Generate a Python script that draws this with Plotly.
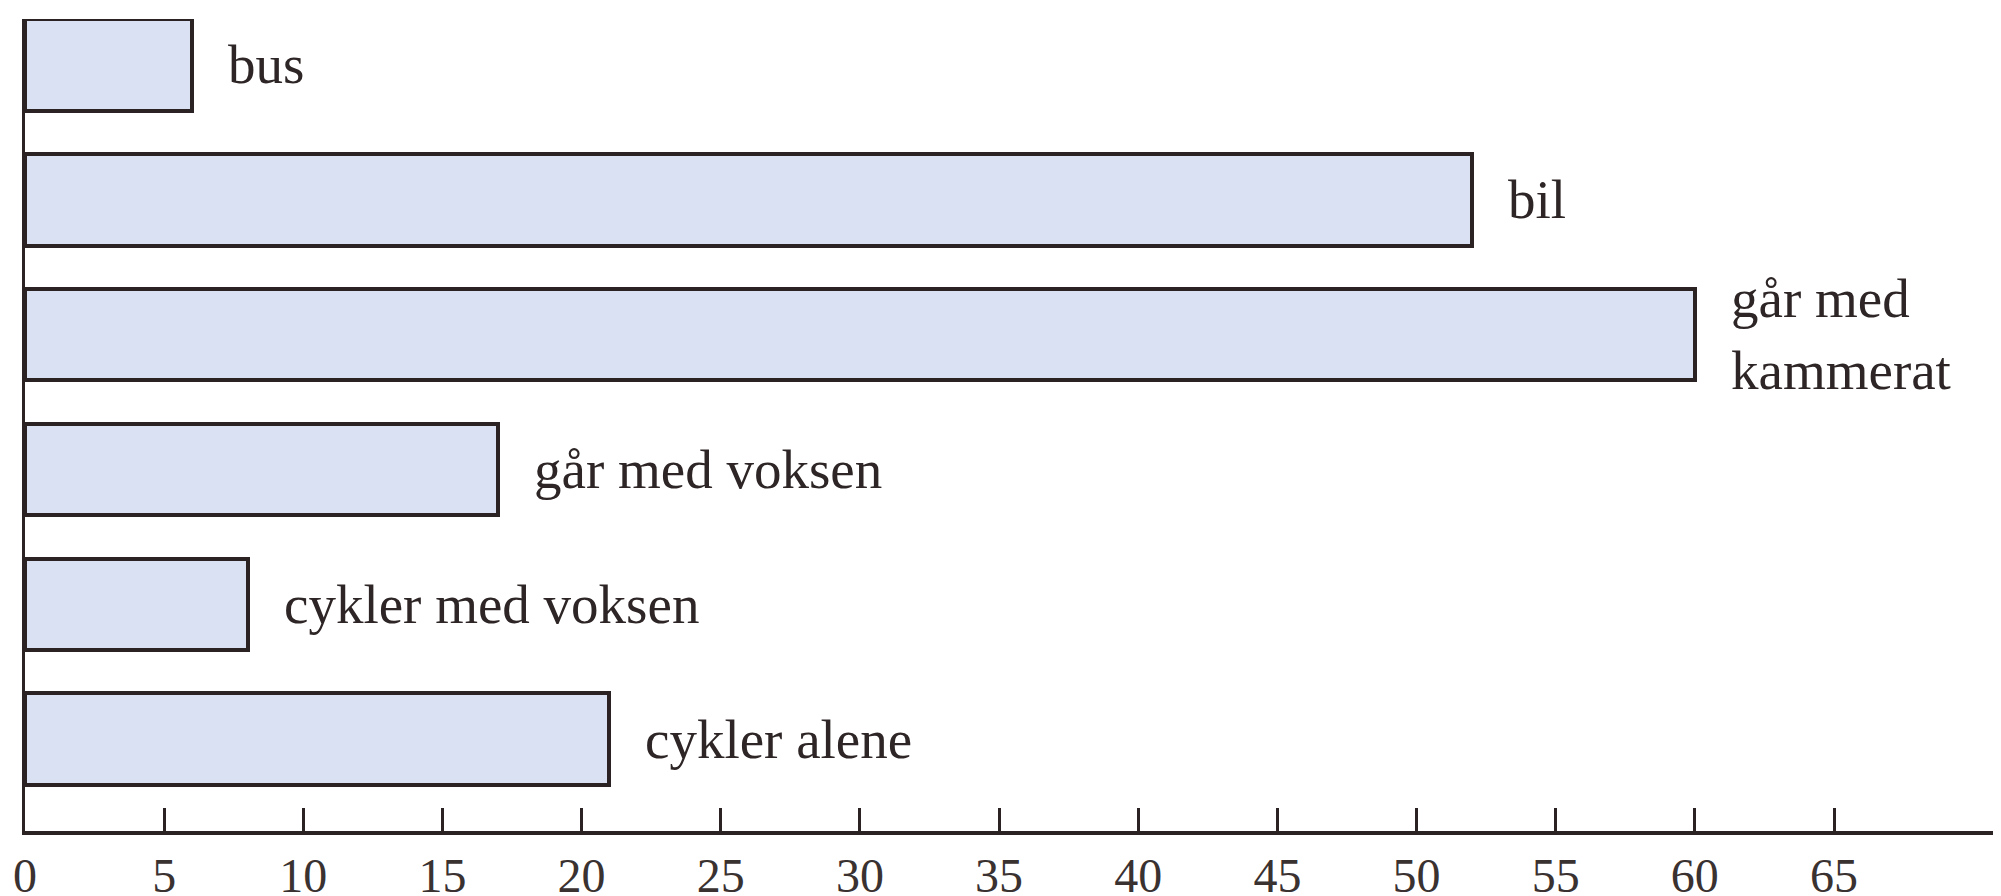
import plotly.graph_objects as go

categories = ["bus", "bil", "går med kammerat", "går med voksen", "cykler med voksen", "cykler alene"]
labels = ["bus", "bil", "går med<br>kammerat", "går med voksen", "cykler med voksen", "cykler alene"]
values = [6, 52, 60, 17, 8, 21]
tick_vals = [0, 5, 10, 15, 20, 25, 30, 35, 40, 45, 50, 55, 60, 65]
tick_text = [str(v) for v in tick_vals]

ink = "#2b2323"
font_family = "Liberation Serif, Times New Roman, serif"

fig = go.Figure()
fig.add_trace(go.Bar(
    x=values, y=categories, orientation="h",
    width=0.68,
    marker=dict(color="#d9e1f2", line=dict(color=ink, width=4)),
    hoverinfo="skip",
))

for v, c, lab in zip(values, categories, labels):
    fig.add_annotation(
        x=v, y=c, text=lab, showarrow=False,
        xanchor="left", yanchor="middle", align="left", xshift=34,
        font=dict(family=font_family, size=55, color="#2e2626"),
    )

# page body has an 8px default margin, so the figure is sized to fit the window
fig.update_layout(
    width=1993, height=888,
    margin=dict(l=17, r=0, t=11, b=65, autoexpand=False),
    paper_bgcolor="white", plot_bgcolor="white",
    showlegend=False,
    bargap=0,
)
fig.update_xaxes(
    range=[0, 71], tickvals=tick_vals, ticktext=tick_text,
    automargin=False,
    showgrid=False, zeroline=False,
    showline=True, linecolor=ink, linewidth=3.5,
    ticks="inside", ticklen=23, tickwidth=2.5, tickcolor=ink,
    tickfont=dict(family=font_family, size=48, color="#3a3131"),
    ticklabelstandoff=0,
)
fig.update_yaxes(
    type="category", categoryorder="array", categoryarray=categories,
    range=[5.68, -0.34], automargin=False,
    showgrid=False, zeroline=False, showticklabels=False,
    showline=True, linecolor=ink, linewidth=3, ticks="",
)

fig.write_html("out.html")
